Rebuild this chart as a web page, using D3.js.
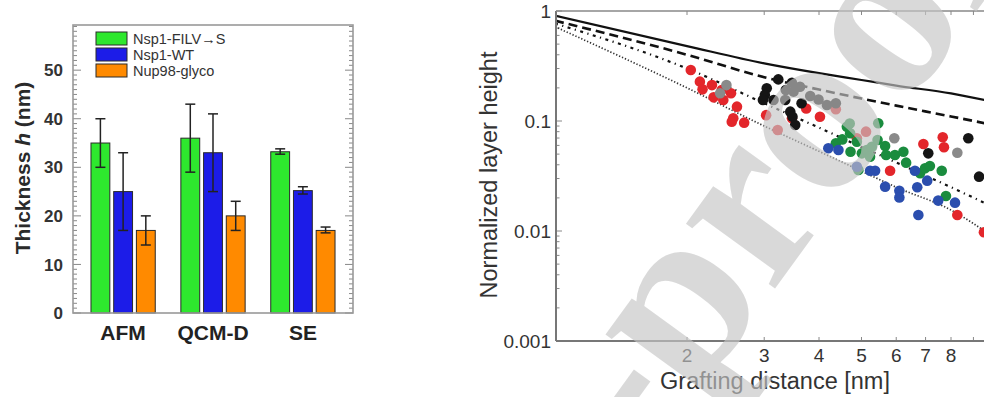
<!DOCTYPE html>
<html><head><meta charset="utf-8">
<script src="https://cdn.jsdelivr.net/npm/d3@7"></script>
<style>html,body{margin:0;padding:0;background:#fff;}svg{display:block;}</style>
</head><body>
<script>
// ---------- Left panel data ----------
const categories = ["AFM", "QCM-D", "SE"];
const seriesNames = ["Nsp1-FILV\u2192S", "Nsp1-WT", "Nup98-glyco"];
const seriesColors = ["#2ee82e", "#1c1ce8", "#ff8a00"];
const thickness = [[35, 25, 17], [36, 33, 20], [33.2, 25.2, 17]];   // [category][series]
const errLow  = [[30, 17, 14], [29, 25, 17], [32.7, 24.5, 16.5]];
const errHigh = [[40, 33, 20], [43, 41, 23], [33.8, 26, 17.7]];
const yTicksLeft = [0, 10, 20, 30, 40, 50];

// ---------- Right panel data ----------
const xTickLabels = [2, 3, 4, 5, 6, 7, 8];
const yTickLabels = [1, 0.1, 0.01, 0.001];
const lineX = [1, 2, 3, 4, 5, 6, 8, 10];
const solidLine   = [0.906, 0.48, 0.334, 0.272, 0.236, 0.21, 0.178, 0.149];
const dashedLine  = [0.816, 0.40, 0.25, 0.193, 0.16, 0.138, 0.11, 0.092];
const dashDotLine = [0.77, 0.30, 0.145, 0.087, 0.058, 0.042, 0.025, 0.0165];
const dottedLine  = [0.72, 0.20, 0.09, 0.053, 0.035, 0.025, 0.0155, 0.0088];

const redPts = [[2.04,0.291],[2.14,0.228],[2.17,0.194],[2.28,0.212],[2.30,0.164],[2.40,0.191],[2.42,0.155],[2.52,0.179],[2.60,0.135],[2.55,0.106],[2.53,0.0986],[2.70,0.0966],[3.03,0.113],[3.47,0.106],[4.37,0.128],[5.12,0.080],[5.81,0.0353],[6.92,0.0618],[7.66,0.0711],[7.71,0.0577],[8.27,0.01397],[9.51,0.00973],[3.22,0.0828],[3.74,0.130],[4.02,0.1094],[4.88,0.0697]];
const greyPts = [[2.46,0.212],[2.38,0.179],[5.94,0.0697],[8.27,0.0515]];
const blackPts = [[3.04,0.198],[3.01,0.172],[2.98,0.155],[3.15,0.155],[3.35,0.155],[3.36,0.191],[3.62,0.205],[3.82,0.169],[3.99,0.157],[4.17,0.140],[4.37,0.145],[3.44,0.1216],[3.48,0.1094],[3.53,0.092],[7.10,0.0508],[8.76,0.0697],[9.27,0.0312],[3.23,0.239],[3.47,0.223],[3.50,0.185],[3.65,0.145]];
const greenPts = [[4.72,0.0526],[5.01,0.0508],[5.14,0.0545],[5.23,0.0474],[5.28,0.0584],[5.44,0.0672],[5.46,0.0953],[5.66,0.0593],[5.69,0.0491],[5.96,0.0491],[6.23,0.0526],[6.32,0.0418],[4.92,0.0359],[6.80,0.0335],[6.98,0.0372],[7.16,0.0390],[7.62,0.0353],[7.79,0.0208],[4.63,0.0887],[4.71,0.0773],[4.37,0.0627],[4.88,0.0648],[4.52,0.068],[4.70,0.095]];
const bluePts = [[4.20,0.0565],[4.43,0.0545],[4.88,0.0384],[5.23,0.0353],[5.37,0.0353],[5.66,0.0253],[6.10,0.0232],[6.10,0.0202],[6.62,0.0353],[6.70,0.0250],[7.06,0.0287],[6.74,0.01397],[7.48,0.0189],[8.17,0.0181]];
const pointSeries = [
  {pts: redPts, color: "#e3262b"},
  {pts: greyPts, color: "#8a8a8a"},
  {pts: blackPts, color: "#151515"},
  {pts: greenPts, color: "#1a8c3e"},
  {pts: bluePts, color: "#2b4eae"}
];

const W = 984, H = 397;
const svg = d3.select("body").append("svg").attr("width", W).attr("height", H);
svg.append("rect").attr("width", W).attr("height", H).attr("fill", "#fff");
const sans = "Liberation Sans, Arial, sans-serif";

// ================= LEFT PANEL =================
const L = {x0: 73, x1: 353, y0: 25, y1: 313};
const yL = d3.scaleLinear().domain([0, 59.3]).range([L.y1, L.y0]);
const xL = d3.scaleBand().domain(categories).range([L.x0, L.x1]).paddingInner(0.285).paddingOuter(0.2);
const xSub = d3.scaleBand().domain(seriesNames).range([0, xL.bandwidth()]).paddingInner(0.17);

const gL = svg.append("g");
const minorL = d3.range(0, 60, 1);
gL.selectAll("line.tl").data(minorL).join("line")
  .attr("x1", L.x0).attr("x2", d => L.x0 + (d % 10 === 0 ? 8 : 4))
  .attr("y1", d => yL(d)).attr("y2", d => yL(d)).attr("stroke", "#888").attr("stroke-width", 1);
gL.selectAll("line.tr").data(minorL).join("line")
  .attr("x1", L.x1).attr("x2", d => L.x1 - (d % 10 === 0 ? 8 : 4))
  .attr("y1", d => yL(d)).attr("y2", d => yL(d)).attr("stroke", "#888").attr("stroke-width", 1);

categories.forEach((c, ci) => {
  seriesNames.forEach((s, si) => {
    const x = xL(c) + xSub(s), w = xSub.bandwidth();
    gL.append("rect").attr("x", x).attr("y", yL(thickness[ci][si]))
      .attr("width", w).attr("height", yL(0) - yL(thickness[ci][si]))
      .attr("fill", seriesColors[si]).attr("stroke", "#2a2a2a").attr("stroke-width", 1);
    const cx = x + w / 2;
    const g = gL.append("g").attr("stroke", "#222").attr("stroke-width", 1.5);
    g.append("line").attr("x1", cx).attr("x2", cx).attr("y1", yL(errLow[ci][si])).attr("y2", yL(errHigh[ci][si]));
    g.append("line").attr("x1", cx - 5).attr("x2", cx + 5).attr("y1", yL(errLow[ci][si])).attr("y2", yL(errLow[ci][si]));
    g.append("line").attr("x1", cx - 5).attr("x2", cx + 5).attr("y1", yL(errHigh[ci][si])).attr("y2", yL(errHigh[ci][si]));
  });
});
gL.append("rect").attr("x", L.x0).attr("y", L.y0).attr("width", L.x1 - L.x0).attr("height", L.y1 - L.y0)
  .attr("fill", "none").attr("stroke", "#999").attr("stroke-width", 1.6);

gL.selectAll("text.yl").data(yTicksLeft).join("text")
  .attr("x", 63).attr("y", d => yL(d)).attr("dy", "0.36em").attr("text-anchor", "end")
  .attr("font-family", sans).attr("font-size", 17).attr("font-weight", "bold")
  .attr("fill", "#333").text(d => d);
gL.selectAll("text.cat").data(categories).join("text")
  .attr("x", d => xL(d) + xL.bandwidth() / 2).attr("y", 340).attr("text-anchor", "middle")
  .attr("font-family", sans).attr("font-size", 21).attr("font-weight", "bold")
  .attr("fill", "#222").text(d => d);
const yt = gL.append("text").attr("transform", "translate(30,168) rotate(-90)").attr("text-anchor", "middle")
  .attr("font-family", sans).attr("font-size", 21).attr("font-weight", "bold").attr("fill", "#2a2a2a");
yt.append("tspan").text("Thickness ");
yt.append("tspan").attr("font-style", "italic").text("h");
yt.append("tspan").text(" (nm)");
seriesNames.forEach((s, i) => {
  const y = 32 + i * 16;
  gL.append("rect").attr("x", 96).attr("y", y).attr("width", 31).attr("height", 13)
    .attr("fill", seriesColors[i]).attr("stroke", "#2a2a2a").attr("stroke-width", 1);
  gL.append("text").attr("x", 133).attr("y", y + 11.5).attr("font-family", sans)
    .attr("font-size", 14.5).attr("fill", "#333").text(s);
});

// ================= RIGHT PANEL =================
const R = {x0: 556, y0: 11, y1: 341};
const xR = d3.scaleLog().domain([1, 10]).range([555, 993.5]);
const yR = d3.scaleLog().domain([0.001, 1]).range([341, 11]);
const gR = svg.append("g");
const defs = svg.append("defs");
defs.append("clipPath").attr("id", "plotclip").append("rect")
  .attr("x", R.x0).attr("y", R.y0).attr("width", W - R.x0).attr("height", R.y1 - R.y0);
defs.append("clipPath").attr("id", "rightclip").append("rect")
  .attr("x", 480).attr("y", 0).attr("width", W - 480).attr("height", H);

const yMinor = [];
[0.001, 0.01, 0.1].forEach(dec => { for (let k = 1; k < 10; k++) yMinor.push(dec * k); });
yMinor.push(1);
gR.selectAll("line.ym").data(yMinor).join("line")
  .attr("x1", R.x0).attr("x2", d => R.x0 + (Math.abs(Math.log10(d) - Math.round(Math.log10(d))) < 1e-6 ? 6 : 3.5))
  .attr("y1", d => yR(d)).attr("y2", d => yR(d)).attr("stroke", "#888").attr("stroke-width", 1);
const xMinor = [2, 3, 4, 5, 6, 7, 8, 9];
gR.selectAll("line.xb").data(xMinor).join("line")
  .attr("x1", d => xR(d)).attr("x2", d => xR(d)).attr("y1", R.y1).attr("y2", R.y1 - 4)
  .attr("stroke", "#888").attr("stroke-width", 1);
gR.selectAll("line.xt").data(xMinor).join("line")
  .attr("x1", d => xR(d)).attr("x2", d => xR(d)).attr("y1", R.y0).attr("y2", R.y0 + 4)
  .attr("stroke", "#888").attr("stroke-width", 1);

const plot = gR.append("g").attr("clip-path", "url(#plotclip)");
const lineGen = d3.line().x(d => xR(d[0])).y(d => yR(d[1])).curve(d3.curveMonotoneX);
const zip = arr => lineX.map((x, i) => [x, arr[i]]);
plot.append("path").attr("d", lineGen(zip(solidLine))).attr("fill", "none").attr("stroke", "#111").attr("stroke-width", 2.2);
plot.append("path").attr("d", lineGen(zip(dashedLine))).attr("fill", "none").attr("stroke", "#111").attr("stroke-width", 2.6).attr("stroke-dasharray", "9,5");
plot.append("path").attr("d", lineGen(zip(dashDotLine))).attr("fill", "none").attr("stroke", "#111").attr("stroke-width", 2.2).attr("stroke-dasharray", "3,4.5,1.2,4.5");
plot.append("path").attr("d", lineGen(zip(dottedLine))).attr("fill", "none").attr("stroke", "#333").attr("stroke-width", 1.7).attr("stroke-dasharray", "1.3,1.9");

pointSeries.forEach(s => {
  plot.selectAll(null).data(s.pts).join("circle")
    .attr("cx", d => xR(d[0])).attr("cy", d => yR(d[1])).attr("r", 5.3).attr("fill", s.color);
});

gR.append("line").attr("x1", R.x0).attr("x2", R.x0).attr("y1", R.y0).attr("y2", R.y1).attr("stroke", "#777").attr("stroke-width", 2);
gR.append("line").attr("x1", R.x0).attr("x2", W).attr("y1", R.y1).attr("y2", R.y1).attr("stroke", "#777").attr("stroke-width", 2);
gR.append("line").attr("x1", R.x0).attr("x2", W).attr("y1", R.y0).attr("y2", R.y0).attr("stroke", "#888").attr("stroke-width", 1.6);

gR.selectAll("text.yr").data(yTickLabels).join("text")
  .attr("x", 551).attr("y", d => yR(d)).attr("dy", "0.36em").attr("text-anchor", "end")
  .attr("font-family", sans).attr("font-size", 19).attr("fill", "#333").text(d => d);
gR.selectAll("text.xr").data(xTickLabels).join("text")
  .attr("x", d => xR(d)).attr("y", 362).attr("text-anchor", "middle")
  .attr("font-family", sans).attr("font-size", 19).attr("fill", "#333").text(d => d);
gR.append("text").attr("x", 775).attr("y", 389).attr("text-anchor", "middle")
  .attr("font-family", sans).attr("font-size", 23.5).attr("fill", "#333").text("Grafting distance [nm]");
gR.append("text").attr("transform", "translate(497,175) rotate(-90)").attr("text-anchor", "middle")
  .attr("font-family", sans).attr("font-size", 23.5).attr("fill", "#333").text("Normalized layer height");

// watermark
const wmText = "Pre-proof";
const fs = 240;
const wm = svg.append("g").attr("clip-path", "url(#rightclip)").append("text")
  .attr("font-family", "Liberation Serif, Times New Roman, serif").attr("font-size", fs).attr("font-weight", "bold")
  .attr("fill", "#c4c4c4").attr("fill-opacity", 0.65).text(wmText);
const oIdx = wmText.indexOf("proof") + 2;
const ext = wm.node().getExtentOfChar(oIdx);
const ocx = ext.x + ext.width / 2, ocy = -0.23 * fs;
wm.attr("transform", `translate(822,130) rotate(-54) translate(${-ocx},${-ocy})`);
</script>
</body></html>
